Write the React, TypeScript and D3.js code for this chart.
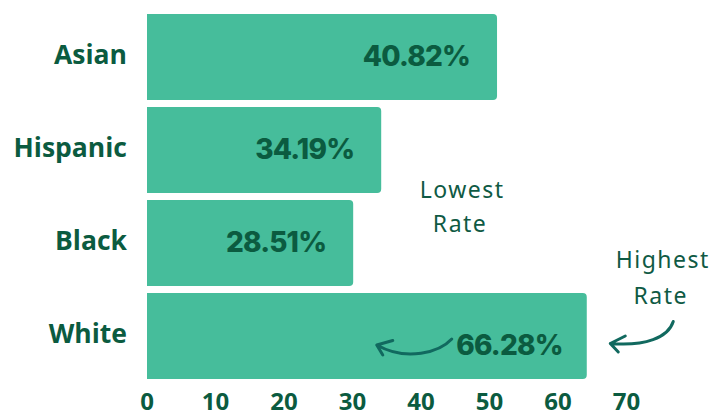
import { useEffect, useRef } from 'react';
import * as d3 from 'd3';

// categories, top to bottom
const categories = ['Asian', 'Hispanic', 'Black', 'White'];
// bar lengths as drawn in the picture (axis units)
const barValues = [51.1, 34.19, 30.1, 64.2];
// printed labels on the bars
const valueLabels = ['40.82%', '34.19%', '28.51%', '66.28%'];
const ticks = [0, 10, 20, 30, 40, 50, 60, 70];

const W = 713;
const H = 413;
const BAR = '#46bd9b';
const DARK = '#0b5b40';
const ARROW = '#11695f';

export default function App() {
    const svgRef = useRef<SVGSVGElement | null>(null);

    useEffect(() => {
        if (!svgRef.current) return;
        const svg = d3.select(svgRef.current);
        svg.selectAll('*').remove();

        const x = d3.scaleLinear().domain([0, 70]).range([147, 626.5]);
        const y = d3.scaleBand<string>()
            .domain(categories)
            .range([14, 379])
            .paddingInner(7 / 93)
            .paddingOuter(0);

        const bw = y.bandwidth();
        const r = 4;

        // bars, right corners rounded
        svg.append('g')
            .selectAll('path')
            .data(categories)
            .join('path')
            .attr('fill', BAR)
            .attr('d', (c, i) => {
                const x0 = x(0);
                const x1 = x(barValues[i]);
                const y0 = y(c)!;
                const p = d3.path();
                p.moveTo(x0, y0);
                p.lineTo(x1 - r, y0);
                p.arcTo(x1, y0, x1, y0 + r, r);
                p.lineTo(x1, y0 + bw - r);
                p.arcTo(x1, y0 + bw, x1 - r, y0 + bw, r);
                p.lineTo(x0, y0 + bw);
                p.closePath();
                return p.toString();
            });

        // category labels
        svg.append('g')
            .selectAll('text')
            .data(categories)
            .join('text')
            .attr('x', 127)
            .attr('y', c => y(c)! + bw / 2 + 7)
            .attr('text-anchor', 'end')
            .attr('fill', DARK)
            .attr('font-family', '"Open Sans", "Noto Sans", sans-serif')
            .attr('font-weight', 700)
            .attr('font-size', 26.5)
            .text(c => c);

        // value labels inside the bars
        svg.append('g')
            .selectAll('text')
            .data(categories)
            .join('text')
            .attr('x', (c, i) => x(barValues[i]) - (i === 3 ? 24 : 27))
            .attr('y', (c, i) => y(c)! + bw / 2 + (i === 3 ? 19 : 9))
            .attr('text-anchor', 'end')
            .attr('fill', DARK)
            .attr('font-family', 'Inter, "Noto Sans", sans-serif')
            .attr('font-weight', 800)
            .attr('font-size', 28)
            .attr('letter-spacing', -0.8)
            .text((c, i) => valueLabels[i]);

        // x axis tick labels
        svg.append('g')
            .selectAll('text')
            .data(ticks)
            .join('text')
            .attr('x', d => x(d))
            .attr('y', 410)
            .attr('text-anchor', 'middle')
            .attr('fill', DARK)
            .attr('font-family', '"Open Sans", "Noto Sans", sans-serif')
            .attr('font-weight', 700)
            .attr('font-size', 24)
            .text(d => d);

        // annotations
        const note = (tx: number, ty: number, s: string) =>
            svg.append('text')
                .attr('x', tx)
                .attr('y', ty)
                .attr('text-anchor', 'middle')
                .attr('fill', '#0f5a44')
                .attr('font-family', '"Noto Sans", sans-serif')
                .attr('font-weight', 400)
                .attr('font-size', 23)
                .attr('letter-spacing', 1.5)
                .text(s);

        const lowX = x(46);
        note(lowX, 198, 'Lowest');
        note(lowX - 2, 232, 'Rate');

        const whiteEnd = x(barValues[3]);
        const whiteMid = y('White')! + bw / 2;
        note(whiteEnd + 76, 268, 'Highest');
        note(whiteEnd + 74, 304, 'Rate');

        const arrows = svg.append('g')
            .attr('fill', 'none')
            .attr('stroke', ARROW)
            .attr('stroke-width', 3)
            .attr('stroke-linecap', 'round')
            .attr('stroke-linejoin', 'round');

        // arrow from White label back toward the bars
        const a1 = d3.path();
        const sx = whiteEnd - 135, sy = whiteMid + 3;
        const tx = whiteEnd - 210, ty = whiteMid + 9;
        a1.moveTo(sx, sy);
        a1.bezierCurveTo(sx - 12, sy + 13, tx + 30, ty + 17, tx, ty);
        a1.moveTo(tx + 16, ty - 4.5);
        a1.lineTo(tx, ty);
        a1.lineTo(tx + 6, ty + 10);
        arrows.append('path').attr('d', a1.toString());

        // arrow from "Highest Rate" to the White bar
        const a2 = d3.path();
        const s2x = whiteEnd + 86.5, s2y = whiteMid - 14.5;
        const t2x = whiteEnd + 23.5, t2y = whiteMid + 7.5;
        a2.moveTo(s2x, s2y);
        a2.bezierCurveTo(s2x - 5, s2y + 16, t2x + 35, t2y + 3, t2x, t2y);
        a2.moveTo(t2x + 15, t2y - 7.5);
        a2.lineTo(t2x, t2y);
        a2.lineTo(t2x + 8, t2y + 8.5);
        arrows.append('path').attr('d', a2.toString());
    }, []);

    return (
        <svg
            ref={svgRef}
            width={W}
            height={H}
            style={{ position: 'absolute', left: 0, top: 0, background: '#fff' }}
        />
    );
}
